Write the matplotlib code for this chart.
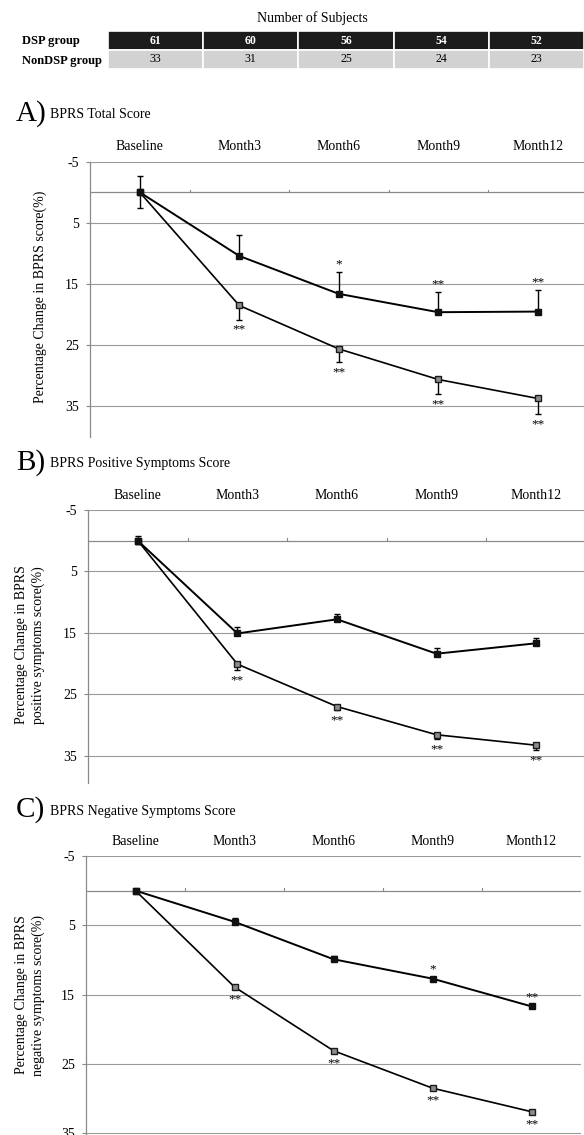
import matplotlib
matplotlib.use('Agg')
import matplotlib.pyplot as plt
import numpy as np

plt.rcParams['font.family'] = ['Liberation Serif', 'DejaVu Serif']

# ---------------- data ----------------
categories = ['Baseline', 'Month3', 'Month6', 'Month9', 'Month12']
row_labels = ['DSP group', 'NonDSP group']
dsp_n = [61, 60, 56, 54, 52]
nondsp_n = [33, 31, 25, 24, 23]

# Panel A: BPRS total score
a_upper = [0, 10.4, 16.6, 19.6, 19.5]
a_upper_err = [2.6, 3.5, 3.6, 3.3, 3.5]
a_lower = [0, 18.5, 25.6, 30.6, 33.7]
a_lower_err = [2.5, 2.3, 2.2, 2.4, 2.6]
a_upper_sig = ['', '', '*', '**', '**']
a_lower_sig = ['', '**', '**', '**', '**']

# Panel B: positive symptoms
b_upper = [0, 15.1, 12.8, 18.4, 16.7]
b_upper_err = [0.8, 1.1, 0.9, 1.0, 0.9]
b_lower = [0, 20.1, 27.0, 31.6, 33.3]
b_lower_err = [0.6, 1.0, 0.6, 0.7, 0.8]
b_upper_sig = ['', '', '', '', '']
b_lower_sig = ['', '**', '**', '**', '**']

# Panel C: negative symptoms
c_upper = [0, 4.5, 9.9, 12.7, 16.7]
c_upper_err = [0.3, 0.5, 0.4, 0.3, 0.3]
c_lower = [0, 13.9, 23.1, 28.5, 31.9]
c_lower_err = [0.3, 0.3, 0.3, 0.3, 0.3]
c_upper_sig = ['', '', '', '*', '**']
c_lower_sig = ['', '**', '**', '**', '**']

yticks = [-5, 5, 15, 25, 35]

# ---------------- figure ----------------
W, H = 584, 1135
fig = plt.figure(figsize=(W / 100, H / 100), dpi=100)


def fx(px):
    return px / W


def fy(py):
    return 1 - py / H


# ---- header table ----
fig.text(fx(312), fy(18), 'Number of Subjects', ha='center', va='center', fontsize=10)
tab_left, tab_right, tab_top, tab_bot = 108, 584, 31, 69
tax = fig.add_axes([fx(tab_left), fy(tab_bot), fx(tab_right - tab_left), (tab_bot - tab_top) / H])
tax.set_xlim(0, len(categories))
tax.set_ylim(2, 0)
tax.axis('off')
xs = np.arange(len(categories))
tax.barh(np.full(len(xs), 0.5), np.ones(len(xs)), left=xs, height=0.95,
         color='#1c1c1c', edgecolor='white', linewidth=1.2)
tax.barh(np.full(len(xs), 1.5), np.ones(len(xs)), left=xs, height=0.95,
         color='#d2d2d2', edgecolor='white', linewidth=1.2)
for i in range(len(xs)):
    tax.text(i + 0.5, 0.5, str(dsp_n[i]), ha='center', va='center', color='white',
             fontsize=8.5, fontweight='bold')
    tax.text(i + 0.5, 1.5, str(nondsp_n[i]), ha='center', va='center', color='black',
             fontsize=8.5)
fig.text(fx(22), fy(41), row_labels[0], ha='left', va='center', fontsize=9, fontweight='bold')
fig.text(fx(22), fy(61), row_labels[1], ha='left', va='center', fontsize=9, fontweight='bold')


def panel(left_px, top_px, bot_px, spacing, ybottom, letter, title, title_y,
          ylabel_lines, ylabel_x, ylabel_y,
          up, up_err, lo, lo_err, up_sig, lo_sig):
    width_px = spacing * len(categories)
    ax = fig.add_axes([fx(left_px), fy(bot_px), fx(width_px), (bot_px - top_px) / H])
    ax.set_xlim(-0.5, len(categories) - 0.5)
    ax.set_ylim(ybottom, -5)
    x = np.arange(len(categories))

    # gridlines
    for yv in yticks:
        ax.axhline(yv, color='#9a9a9a', lw=0.8, zorder=0)
    # category axis at 0
    ax.axhline(0, color='#8a8a8a', lw=0.9, zorder=0)
    for xv in x[:-1] + 0.5:
        ax.plot([xv, xv], [0, -0.45], color='#8a8a8a', lw=0.8, zorder=0)

    for s in ['right', 'bottom', 'top']:
        ax.spines[s].set_visible(False)
    ax.spines['left'].set_color('#8a8a8a')
    ax.spines['left'].set_linewidth(0.9)

    ax.set_yticks(yticks)
    ax.set_yticklabels([str(v) for v in yticks], fontsize=10)
    ax.tick_params(axis='y', length=3, color='#8a8a8a', pad=5)
    ax.xaxis.tick_top()
    ax.set_xticks(x)
    ax.set_xticklabels(categories, fontsize=10)
    ax.tick_params(axis='x', length=0, pad=6)

    # upper series: errors drawn upward; lower series: downward
    ax.errorbar(x, up, yerr=[up_err, np.zeros(len(x))], fmt='none', ecolor='black',
                elinewidth=1.0, capsize=2.2, capthick=1.0, zorder=3)
    ax.errorbar(x, lo, yerr=[np.zeros(len(x)), lo_err], fmt='none', ecolor='black',
                elinewidth=1.0, capsize=2.2, capthick=1.0, zorder=3)
    ax.plot(x, lo, '-s', color='black', lw=1.2, markersize=4.5,
            markerfacecolor='#8c8c8c', markeredgecolor='#1a1a1a', markeredgewidth=1.0, zorder=4)
    ax.plot(x, up, '-s', color='black', lw=1.4, markersize=4.5,
            markerfacecolor='#111111', markeredgecolor='#111111', zorder=5)

    for i in range(len(x)):
        if up_sig[i]:
            ax.annotate(up_sig[i], (x[i], up[i] - up_err[i]), xytext=(0, 1),
                        textcoords='offset points', ha='center', va='bottom', fontsize=9.5)
        if lo_sig[i]:
            ax.annotate(lo_sig[i], (x[i], lo[i] + lo_err[i]), xytext=(0, -3),
                        textcoords='offset points', ha='center', va='top', fontsize=9.5)

    fig.text(fx(16), fy(title_y), letter, ha='left', va='center', fontsize=21)
    fig.text(fx(50), fy(title_y + 1), title, ha='left', va='center', fontsize=10)
    if len(ylabel_lines) == 1:
        fig.text(fx(ylabel_x), fy(ylabel_y), ylabel_lines[0], rotation=90,
                 ha='center', va='center', fontsize=10)
    else:
        fig.text(fx(ylabel_x), fy(ylabel_y), '\n'.join(ylabel_lines), rotation=90,
                 ha='center', va='center', fontsize=10, linespacing=1.35)
    return ax


panel(90, 161.7, 437, 99.5, 40, 'A)', 'BPRS Total Score', 114,
      ['Percentage Change in BPRS score(%)'], 40, 297,
      a_upper, a_upper_err, a_lower, a_lower_err, a_upper_sig, a_lower_sig)

panel(88, 510, 783.3, 99.6, 39.5, 'B)', 'BPRS Positive Symptoms Score', 463,
      ['Percentage Change in BPRS', 'positive symptoms score(%)'], 30, 645,
      b_upper, b_upper_err, b_lower, b_lower_err, b_upper_sig, b_lower_sig)

panel(86, 856, 1135, 99.0, 35.26, 'C)', 'BPRS Negative Symptoms Score', 810,
      ['Percentage Change in BPRS', 'negative symptoms score(%)'], 30, 995,
      c_upper, c_upper_err, c_lower, c_lower_err, c_upper_sig, c_lower_sig)

fig.savefig('out.png', dpi=100)
